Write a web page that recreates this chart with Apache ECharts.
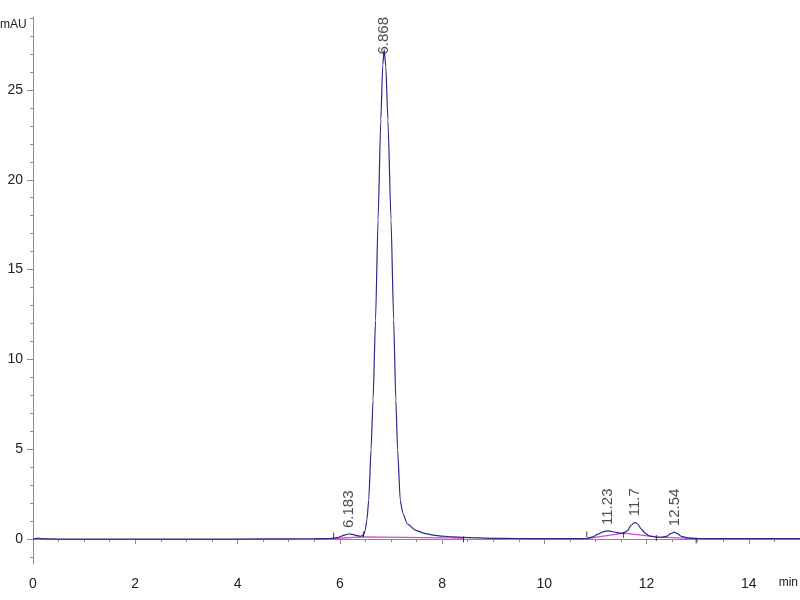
<!DOCTYPE html>
<html><head><meta charset="utf-8">
<script src="https://cdn.jsdelivr.net/npm/echarts@6/dist/echarts.min.js"></script>
<style>html,body{margin:0;padding:0;background:#fff}#c{width:800px;height:600px}</style>
</head><body><div id="c"></div>
<script>
// ---- data ----
const traceTime = [0.00,0.05,0.10,0.15,0.25,0.5,1.0,2.0,3.0,4.0,5.0,5.5,5.80,5.88,5.95,6.05,6.12,6.18,6.25,6.32,6.40,6.464,6.497,6.530,6.566,6.611,6.650,6.699,6.748,6.802,6.840,6.868,6.900,6.941,7.002,7.053,7.096,7.131,7.182,7.231,7.319,7.476,7.65,7.828,8.0,8.2,8.42,8.7,9.0,9.5,10.0,10.5,10.83,10.95,11.05,11.15,11.23,11.32,11.42,11.50,11.55,11.62,11.70,11.77,11.82,11.90,11.97,12.05,12.19,12.30,12.40,12.47,12.54,12.60,12.68,12.80,12.97,13.5,14.0,14.5,15.0];
const traceSignal = [0.00,0.02,0.05,0.03,0.01,0.00,0.00,0.00,0.00,0.00,0.01,0.02,0.03,0.04,0.08,0.18,0.25,0.28,0.26,0.20,0.15,0.22,0.50,1.06,2.17,4.96,7.74,12.19,17.76,23.33,26.4,27.25,26.3,23.33,17.76,12.19,7.74,4.96,2.17,1.45,0.85,0.50,0.32,0.22,0.16,0.12,0.09,0.06,0.04,0.03,0.02,0.02,0.03,0.12,0.27,0.40,0.45,0.42,0.36,0.32,0.33,0.45,0.78,0.93,0.85,0.55,0.33,0.18,0.10,0.10,0.16,0.30,0.38,0.30,0.15,0.06,0.03,0.02,0.03,0.02,0.02];
const baselineTime = [5.88,6.46,8.42,null,10.83,11.55,12.19,12.97];
const baselineSignal = [0.03,0.12,0.05,null,0.02,0.33,0.12,0.02];
const eventTimes = [5.88,6.46,8.42,10.83,11.55,12.19,12.97];
const eventSignal = [0.19,0.25,-0.03,0.25,0.22,0.06,-0.08];
const peakTimes = [6.183,6.868,11.239,11.77,12.544];
const peakHeights = [0.28,27.25,0.45,0.93,0.38];
const peakLabels = ['6.183','6.868','11.23','11.7','12.54'];
const xMajorTicks = [0,2,4,6,8,10,12,14];
const xMinorTicks = [0,0.5,1,1.5,2,2.5,3,3.5,4,4.5,5,5.5,6,6.5,7,7.5,8,8.5,9,9.5,10,10.5,11,11.5,12,12.5,13,13.5,14,14.5];
const yMajorTicks = [0,5,10,15,20,25];
const yMinorTicks = [-1,0,1,2,3,4,5,6,7,8,9,10,11,12,13,14,15,16,17,18,19,20,21,22,23,24,25,26,27,28,29];
const yUnit = 'mAU';
const xUnit = 'min';

const FONT = '"Liberation Sans", Arial, sans-serif';
const AXIS_COLOR = '#8a8a8a';
const TEXT_COLOR = '#222';

const chart = echarts.init(document.getElementById('c'), null, {renderer: 'canvas'});
const option = {
  animation: false,
  backgroundColor: '#fff',
  grid: {left: 33, right: 0, top: 17, bottom: 36, containLabel: false, outerBoundsMode: 'none'},
  graphic: [
    {type: 'text', left: 0, top: 19, style: {text: yUnit, fontSize: 12, fontFamily: FONT, fill: TEXT_COLOR}},
    {type: 'text', right: 2, top: 577, style: {text: xUnit, fontSize: 12, fontFamily: FONT, fill: TEXT_COLOR}}
  ],
  xAxis: [{
    type: 'value', min: 0, max: 15, position: 'bottom',
    axisLine: {show: true, lineStyle: {color: AXIS_COLOR, width: 1}},
    axisTick: {show: true, length: 5, customValues: xMajorTicks, lineStyle: {color: AXIS_COLOR}},
    axisLabel: {show: true, customValues: xMajorTicks, fontSize: 14, fontFamily: FONT, color: TEXT_COLOR, margin: 13},
    splitLine: {show: false}
  }, {
    type: 'value', min: 0, max: 15, position: 'bottom',
    axisLine: {show: false},
    axisTick: {show: true, length: 3, customValues: xMinorTicks, lineStyle: {color: AXIS_COLOR}},
    axisLabel: {show: false},
    splitLine: {show: false}
  }],
  yAxis: [{
    type: 'value', min: -1.39, max: 29.06, position: 'left',
    axisLine: {show: true, lineStyle: {color: AXIS_COLOR, width: 1}},
    axisTick: {show: true, length: 6, customValues: yMajorTicks, lineStyle: {color: AXIS_COLOR}},
    axisLabel: {show: true, customValues: yMajorTicks, fontSize: 14, fontFamily: FONT, color: TEXT_COLOR, margin: 10},
    splitLine: {show: false}
  }, {
    type: 'value', min: -1.39, max: 29.06, position: 'left',
    axisLine: {show: false},
    axisTick: {show: true, length: 3, customValues: yMinorTicks, lineStyle: {color: AXIS_COLOR}},
    axisLabel: {show: false},
    splitLine: {show: false}
  }],
  series: [{
    name: 'baseline', type: 'line', xAxisIndex: 0, yAxisIndex: 0,
    data: baselineTime.map((t, i) => t === null ? [null, null] : [t, baselineSignal[i]]),
    connectNulls: false, showSymbol: false, silent: true, z: 1,
    lineStyle: {color: '#dd44dd', width: 1.4}
  }, {
    name: 'signal', type: 'line', xAxisIndex: 0, yAxisIndex: 0,
    data: traceTime.map((t, i) => [t, traceSignal[i]]),
    showSymbol: false, smooth: 0.2, smoothMonotone: 'x', silent: true, z: 2,
    lineStyle: {color: '#2a2a8a', width: 1.2}
  }, {
    name: 'events', type: 'scatter', xAxisIndex: 0, yAxisIndex: 0,
    data: eventTimes.map((t, i) => [t, eventSignal[i]]),
    symbol: 'rect', symbolSize: [1, 6], silent: true, z: 3,
    itemStyle: {color: '#111'}
  }, {
    name: 'peaks', type: 'scatter', xAxisIndex: 0, yAxisIndex: 0,
    data: peakTimes.map((t, i) => ({
      value: [t, peakHeights[i]],
      label: i === 1 ? {distance: -5} : undefined
    })),
    symbolSize: 0, silent: true, z: 4,
    label: {
      show: true, position: 'top', distance: 6, rotate: 90,
      align: 'left', verticalAlign: 'middle',
      fontSize: 15, fontFamily: FONT, color: TEXT_COLOR,
      formatter: p => peakLabels[p.dataIndex]
    }
  }]
};
chart.setOption(option);
</script>
</body></html>
